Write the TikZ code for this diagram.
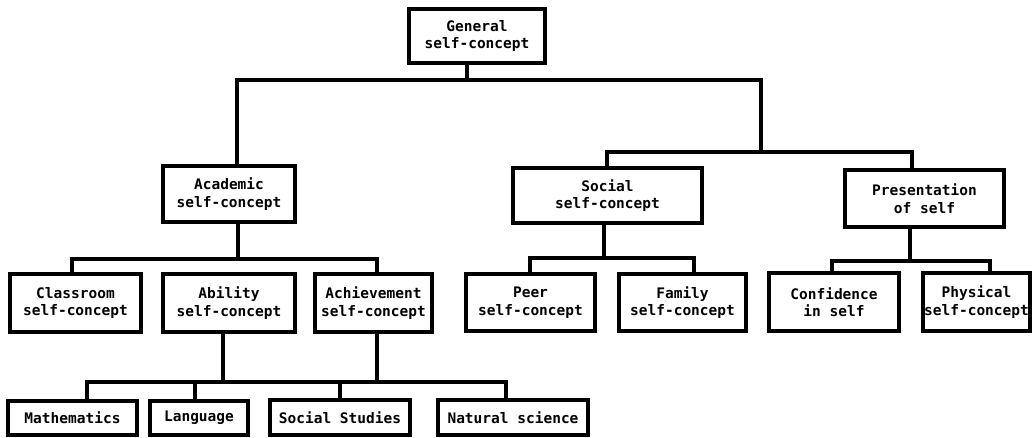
\documentclass[tikz,border=0pt]{standalone}
\usepackage{fontspec}
\setmonofont{DejaVu Sans Mono}
\begin{document}
\begin{tikzpicture}[x=1pt,y=-1pt,
  box/.style={draw, line width=3.2pt, rectangle, inner sep=0pt, align=center,
    font=\ttfamily\bfseries\fontsize{14.5}{17.5}\selectfont},
  conn/.style={line width=3.2pt, line cap=rect, line join=miter}]
\useasboundingbox (0,0) rectangle (1032,437);

% level 0
\node[box, minimum width=136, minimum height=54] (gen) at (477,36) {General\\self-concept};

% level 1
\node[box, minimum width=132, minimum height=56] (aca) at (229,194) {Academic\\self-concept};
\node[box, minimum width=189, minimum height=55] (soc) at (607.5,195.5) {Social\\self-concept};
\node[box, minimum width=159, minimum height=57] (pres) at (924.5,198.5) {Presentation\\of self};

% level 2
\node[box, minimum width=131, minimum height=58] (cls) at (75.5,303) {Classroom\\self-concept};
\node[box, minimum width=132, minimum height=58] (abl) at (229,303) {Ability\\self-concept};
\node[box, minimum width=117, minimum height=58] (ach) at (373.5,303) {Achievement\\self-concept};
\node[box, minimum width=129, minimum height=57] (peer) at (530.5,302.5) {Peer\\self-concept};
\node[box, minimum width=127, minimum height=57] (fam) at (682.5,302.5) {Family\\self-concept};
\node[box, minimum width=130, minimum height=58] (conf) at (834,302) {Confidence\\in self};
\node[box, minimum width=107, minimum height=58] (phys) at (976.5,302) {Physical\\self-concept};

% level 3
\node[box, minimum width=129, minimum height=34] (math) at (72.5,418) {Mathematics};
\node[box, minimum width=98, minimum height=34] (lang) at (199,418) {Language};
\node[box, minimum width=140, minimum height=35] (ss) at (340,417.5) {Social Studies};
\node[box, minimum width=150, minimum height=35] (nat) at (513,417.5) {Natural science};

% bus junctions
\coordinate (t0) at (467,80);
\coordinate (tL) at (237,80);
\coordinate (tR) at (761,80);
\coordinate (r0) at (761,152);
\coordinate (rL) at (607,152);
\coordinate (rR) at (912,152);
\coordinate (a0) at (238,259);
\coordinate (aL) at (72,259);
\coordinate (aR) at (377,259);
\coordinate (s0) at (604,258);
\coordinate (sL) at (530,258);
\coordinate (sR) at (694,258);
\coordinate (p0) at (910,261);
\coordinate (pL) at (832,261);
\coordinate (pR) at (990,261);
\coordinate (b1) at (223,382);
\coordinate (b2) at (377,382);
\coordinate (bL) at (87,382);
\coordinate (bm1) at (195,382);
\coordinate (bm2) at (340,382);
\coordinate (bR) at (506,382);

% connectors
\draw[conn] (gen.south -| t0) -- (t0);
\draw[conn] (aca.north -| tL) -- (tL) -- (tR) -- (r0);
\draw[conn] (soc.north -| rL) -- (rL) -- (rR) -- (pres.north -| rR);

\draw[conn] (aca.south -| a0) -- (a0);
\draw[conn] (cls.north -| aL) -- (aL) -- (aR) -- (ach.north -| aR);
\draw[conn] (soc.south -| s0) -- (s0);
\draw[conn] (peer.north -| sL) -- (sL) -- (sR) -- (fam.north -| sR);
\draw[conn] (pres.south -| p0) -- (p0);
\draw[conn] (conf.north -| pL) -- (pL) -- (pR) -- (phys.north -| pR);

\draw[conn] (abl.south -| b1) -- (b1);
\draw[conn] (ach.south -| b2) -- (b2);
\draw[conn] (math.north -| bL) -- (bL) -- (bR) -- (nat.north -| bR);
\draw[conn] (lang.north -| bm1) -- (bm1);
\draw[conn] (ss.north -| bm2) -- (bm2);
\end{tikzpicture}
\end{document}
